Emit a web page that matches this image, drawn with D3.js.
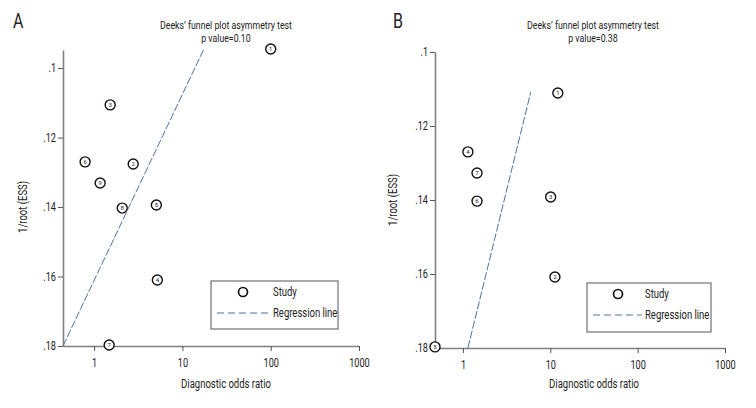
<!DOCTYPE html>
<html><head><meta charset="utf-8">
<script src="https://cdn.jsdelivr.net/npm/d3@7"></script>
<style>
body{margin:0;background:#fff;}
text{font-family:"Roboto","Liberation Sans",sans-serif;fill:#222;}
</style></head><body>
<svg id="c" width="756" height="408"></svg>
<script>
// Panel A data
const studyIdsA = [1,2,3,4,5,6,7,8,9];
const dorA = [100, 2.77, 1.52, 5.2, 5.07, 0.79, 1.48, 2.08, 1.17];
const essA = [0.0945, 0.1276, 0.1106, 0.161, 0.1394, 0.127, 0.1797, 0.1403, 0.1331];
const regDorA = [0.444, 17.3];
const regEssA = [0.18, 0.0948];
const pValueA = "0.10";
// Panel B data
const studyIdsB = [1,2,3,4,5,6,7];
const dorB = [12.2, 11.3, 10.1, 1.14, 0.479, 1.45, 1.45];
const essB = [0.1111, 0.1608, 0.1392, 0.127, 0.1797, 0.1403, 0.1327];
const regDorB = [1.14, 5.98];
const regEssB = [0.18, 0.1108];
const pValueB = "0.38";
// Axis ticks
const xTicks = [1, 10, 100, 1000];
const yTicks = [0.1, 0.12, 0.14, 0.16, 0.18];
const yTickLabels = [".1", ".12", ".14", ".16", ".18"];

const svg = d3.select("#c");
const axisColor = "#808080";
const regColor = "#4f72a0";

function panel(o){
  const g = svg.append("g");
  const x = d3.scaleLog().domain(o.xDom).range(o.xRange);
  const y = d3.scaleLinear().domain(o.yDom).range(o.yRange);
  g.append("text").attr("class","cond").attr("x", o.letterX).attr("y", 28).attr("font-size", 21).text(o.letter);
  g.append("text").attr("class","cond").attr("x", o.titleX).attr("y", 28.5).attr("text-anchor","middle").attr("font-size", 11.5).text("Deeks\u2019 funnel plot asymmetry test");
  g.append("text").attr("class","cond").attr("x", o.titleX).attr("y", 42).attr("text-anchor","middle").attr("font-size", 11.5).text("p value=" + o.p);
  const xa = g.append("g").attr("transform", `translate(0,${o.yRange[0]})`)
    .call(d3.axisBottom(x).tickValues(xTicks).tickFormat(d3.format("d")).tickSize(5).tickSizeOuter(0));
  const ya = g.append("g").attr("transform", `translate(${o.xRange[0]},0)`)
    .call(d3.axisLeft(y).tickValues(yTicks).tickFormat((d,i)=>yTickLabels[i]).tickSize(5).tickSizeOuter(0));
  [xa, ya].forEach(a=>{
    a.select(".domain").attr("stroke", axisColor).attr("stroke-width", 1.6);
    a.selectAll(".tick line").attr("stroke", "#555").attr("stroke-width", 1);
    a.selectAll(".tick text").attr("class","cond").attr("font-size", 12).attr("fill","#222")
      .style("font-family",'"Roboto",sans-serif');
  });
  xa.selectAll(".tick text").attr("dy", "1.05em");
  ya.selectAll(".tick text").attr("x", -7);
  g.append("text").attr("class","cond").attr("x", (o.xRange[0]+o.xRange[1])/2 + o.xLabelShift).attr("y", 388).attr("text-anchor","middle").attr("font-size", 12.5).text("Diagnostic odds ratio");
  g.append("text").attr("class","cond").attr("transform", `translate(${o.yLabelX},${o.yLabelY}) rotate(-90)`).attr("text-anchor","middle").attr("font-size", 12.5).text("1/root (ESS)");
  const reg = o.regDor.map((d,i)=>[d, o.regEss[i]]);
  g.append("path").datum(reg).attr("fill","none").attr("stroke", regColor).attr("stroke-width", 1)
    .attr("stroke-dasharray","8,2")
    .attr("d", d3.line().x(d=>x(d[0])).y(d=>y(d[1])));
  const pts = o.ids.map((id,i)=>({id, dor:o.dor[i], ess:o.ess[i]}));
  const pg = g.selectAll(".pt").data(pts).enter().append("g").attr("transform", d=>`translate(${x(d.dor)},${y(d.ess)})`);
  pg.append("circle").attr("r", 5).attr("fill","#fff").attr("stroke","#111").attr("stroke-width", 1.4);
  pg.append("text").attr("text-anchor","middle").attr("dy","0.35em").attr("font-size", 6).attr("fill","#333").text(d=>d.id);
  const L = o.legend;
  g.append("rect").attr("x", L.x).attr("y", L.y).attr("width", L.w).attr("height", L.h).attr("fill","#fff").attr("stroke","#555").attr("stroke-width",1);
  g.append("circle").attr("cx", L.x + L.cx).attr("cy", L.y + 11).attr("r", 4.5).attr("fill","none").attr("stroke","#111").attr("stroke-width",1.7);
  g.append("text").attr("class","cond").attr("x", L.x + L.tx).attr("y", L.y + 11).attr("dy","0.35em").attr("font-size", 12.5).text("Study");
  g.append("line").attr("x1", L.x + 6).attr("x2", L.x + L.tx - 3).attr("y1", L.y + 32).attr("y2", L.y + 32)
    .attr("stroke", regColor).attr("stroke-width",1).attr("stroke-dasharray","7,4");
  g.append("text").attr("class","cond").attr("x", L.x + L.tx).attr("y", L.y + 32).attr("dy","0.35em").attr("font-size", 12.5).text("Regression line");
}

panel({letter:"A", letterX:13, titleX:226, p:pValueA,
  xDom:[0.444, 1000], xRange:[63, 359], yDom:[0.18, 0.0948], yRange:[346, 50],
  ids:studyIdsA, dor:dorA, ess:essA, regDor:regDorA, regEss:regEssA,
  xLabelShift:15, yLabelX:27, yLabelY:207,
  legend:{x:211, y:281, w:127, h:48, cx:32, tx:62}});
panel({letter:"B", letterX:393, titleX:593, p:pValueB,
  xDom:[0.479, 1000], xRange:[435, 725], yDom:[0.18, 0.1], yRange:[348, 52],
  ids:studyIdsB, dor:dorB, ess:essB, regDor:regDorB, regEss:regEssB,
  xLabelShift:14, yLabelX:397, yLabelY:200,
  legend:{x:587, y:283, w:124, h:49, cx:31, tx:58}});

// condensed look: squeeze glyphs horizontally
svg.selectAll("text.cond").each(function(){
  const w = this.getComputedTextLength();
  this.setAttribute("textLength", (w * 0.76).toFixed(1));
  this.setAttribute("lengthAdjust", "spacingAndGlyphs");
});
</script></body></html>
